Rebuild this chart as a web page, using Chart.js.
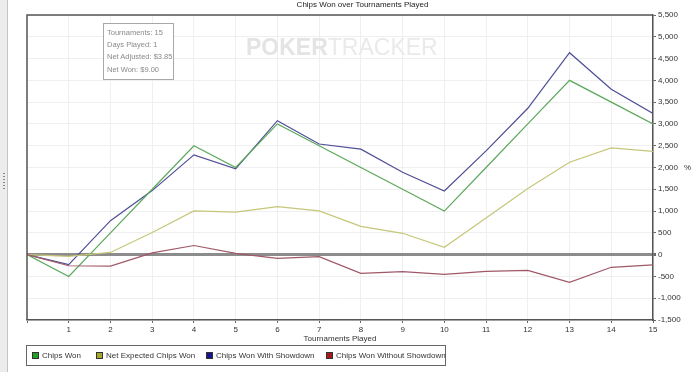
<!DOCTYPE html>
<html>
<head>
<meta charset="utf-8">
<script src="https://cdn.jsdelivr.net/npm/chart.js@4.4.1/dist/chart.umd.min.js"></script>
<style>
  body { margin: 0; background: #fff; font-family: "Liberation Sans", Arial, sans-serif; }
  #wrap { position: relative; width: 700px; height: 372px; overflow: hidden; }
  #myChart { position: absolute; left: 0; top: 0; }
  .side { position: absolute; left: 0; top: 0; width: 7px; height: 372px; background: #ececec; border-right: 1px solid #c4c4c4; }
  .dots { position: absolute; left: 3px; top: 173px; width: 2px; height: 18px;
          background: repeating-linear-gradient(#888 0 1px, transparent 1px 3px); }
  .title { position: absolute; left: 0; width: 725px; top: 0; text-align: center; font-size: 8px; color: #222; }
  .wm { position: absolute; left: 246px; top: 34px; font-size: 23px; color: #eaeaea; white-space: nowrap; }
  .wm b { font-weight: bold; color: #e4e4e4; }
  .tip { position: absolute; left: 103px; top: 23px; width: 69px; height: 55px; border: 1px solid #a8a8a8; background: #fff;
         font-size: 7.5px; color: #8a8a8a; }
  .tip div { position: absolute; left: 3px; white-space: nowrap; }
  .xtitle { position: absolute; left: 27px; width: 626px; top: 334px; text-align: center; font-size: 8px; color: #333; }
  .ytitle { position: absolute; left: 684px; top: 163px; font-size: 8px; color: #333; }
  .legend { position: absolute; left: 26px; top: 345px; width: 418px; height: 19px; border: 1px solid #666; }
  .item { position: absolute; top: 5px; font-size: 8px; color: #333; white-space: nowrap; }
  .item span { display: inline-block; width: 5px; height: 5px; border: 1px solid #333; margin-right: 3px; vertical-align: -1px; }
</style>
</head>
<body>
<div id="wrap">
  <canvas id="myChart" width="700" height="372"></canvas>
  <div class="side"><div class="dots"></div></div>
  <div class="title">Chips Won over Tournaments Played</div>
  <div class="wm"><b>POKER</b>TRACKER</div>
  <div class="tip">
    <div style="top:4px">Tournaments: 15</div>
    <div style="top:16px">Days Played: 1</div>
    <div style="top:28px">Net Adjusted: $3.85</div>
    <div style="top:41px">Net Won: $9.00</div>
  </div>
  <div class="xtitle">Tournaments Played</div>
  <div class="ytitle">%</div>
  <div class="legend">
    <div class="item" style="left:5px"><span style="background:#22a022"></span>Chips Won</div>
    <div class="item" style="left:69px"><span style="background:#a8a828"></span>Net Expected Chips Won</div>
    <div class="item" style="left:179px"><span style="background:#14148c"></span>Chips Won With Showdown</div>
    <div class="item" style="left:299px"><span style="background:#a81818"></span>Chips Won Without Showdown</div>
  </div>
</div>
<script>
// tournaments 0..15
let tournaments = [0, 1, 2, 3, 4, 5, 6, 7, 8, 9, 10, 11, 12, 13, 14, 15]
let chipsWon = [0, -500, 500, 1500, 2500, 2000, 3000, 2500, 2000, 1500, 1000, 2000, 3000, 4000, 3500, 3000]
let netExpected = [0, -40, 50, 510, 1005, 975, 1100, 1005, 650, 490, 170, 840, 1520, 2120, 2450, 2370]
let withShowdown = [0, -230, 780, 1470, 2290, 1970, 3075, 2540, 2420, 1890, 1460, 2380, 3360, 4635, 3795, 3240]
let withoutShowdown = [0, -255, -265, 40, 210, 30, -85, -45, -430, -390, -455, -385, -360, -635, -290, -235]

function toPoints(values) {
    return values.map(function(v, i) { return { x: tournaments[i], y: v } })
}

// frame round the plot area (top + left edges)
let framePlugin = {
    id: 'frame',
    afterDraw: function(chart) {
        let a = chart.chartArea
        let c = chart.ctx
        c.save()
        c.strokeStyle = '#555'
        c.lineWidth = 1.5
        c.beginPath()
        c.moveTo(a.left, a.bottom)
        c.lineTo(a.left, a.top)
        c.lineTo(a.right, a.top)
        c.stroke()
        c.restore()
    }
}

let ctx = document.getElementById('myChart').getContext('2d')

let chart = new Chart(ctx, {
    type: 'line',
    data: {
        datasets: [{
            label: 'Chips Won Without Showdown',
            data: toPoints(withoutShowdown),
            borderColor: '#a05868',
            borderWidth: 1.2
        }, {
            label: 'Net Expected Chips Won',
            data: toPoints(netExpected),
            borderColor: '#c6c67a',
            borderWidth: 1.2
        }, {
            label: 'Chips Won',
            data: toPoints(chipsWon),
            borderColor: '#5aa85a',
            borderWidth: 1.2
        }, {
            label: 'Chips Won With Showdown',
            data: toPoints(withShowdown),
            borderColor: '#4e4e96',
            borderWidth: 1.2
        }]
    },
    options: {
        responsive: false,
        animation: false,
        layout: { padding: { left: 27, top: 15, right: 0, bottom: 0 } },
        elements: { point: { radius: 0 }, line: { tension: 0 } },
        plugins: { legend: { display: false }, tooltip: { enabled: false } },
        scales: {
            x: {
                type: 'linear',
                min: 0,
                max: 15,
                afterFit: function(scale) { scale.height = 52 },
                ticks: {
                    stepSize: 1,
                    color: '#333',
                    font: { family: 'Liberation Sans', size: 8 },
                    padding: 2,
                    callback: function(v) { return v === 0 ? '' : v }
                },
                grid: { color: '#efefef', tickLength: 3, tickColor: '#666' },
                border: { color: '#555', width: 1.5 }
            },
            y: {
                position: 'right',
                min: -1500,
                max: 5500,
                afterFit: function(scale) { scale.width = 47 },
                ticks: {
                    stepSize: 500,
                    color: '#333',
                    font: { family: 'Liberation Sans', size: 8 },
                    padding: 2,
                    callback: function(v) { return v.toLocaleString('en-US') }
                },
                grid: {
                    color: function(c) { return c.tick && c.tick.value === 0 ? '#8c8c8c' : '#efefef' },
                    lineWidth: function(c) { return c.tick && c.tick.value === 0 ? 3 : 1 },
                    tickLength: 3,
                    tickColor: '#666'
                },
                border: { color: '#555', width: 1.5 }
            }
        }
    },
    plugins: [framePlugin]
})
</script>
</body>
</html>
